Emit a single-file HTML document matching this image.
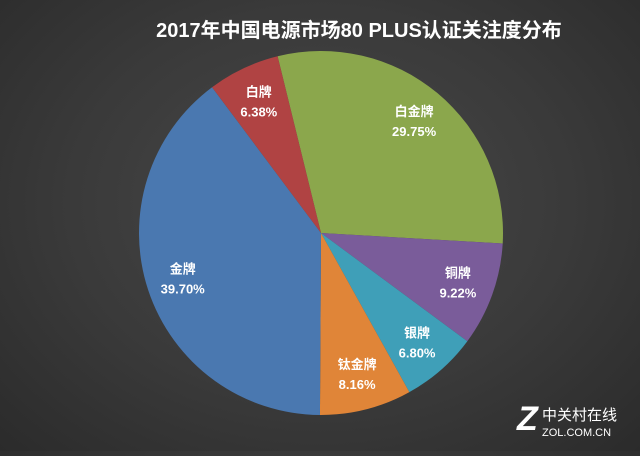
<!DOCTYPE html>
<html><head><meta charset="utf-8"><style>
html,body{margin:0;padding:0}
body{width:640px;height:451px;overflow:hidden;background:radial-gradient(ellipse at 50% 45%,#484848 0%,#3a3a3a 55%,#2b2b2b 100%);font-family:"Liberation Sans","Noto Sans CJK SC",sans-serif}
</style></head><body>
<svg id="chart" width="640" height="451" xmlns="http://www.w3.org/2000/svg">
<text x="359" y="37" text-anchor="middle" fill="#fff" font-size="20" font-weight="bold" font-family="Liberation Sans, Noto Sans CJK SC, sans-serif">2017年中国电源市场80 PLUS认证关注度分布</text>
<g id="slices"></g>
<g id="labels"></g>
<g>
<text x="517" y="430" fill="#fff" font-size="34" font-weight="bold" font-style="italic" font-family="Liberation Sans, sans-serif">Z</text>
<text x="542" y="420" fill="#fff" font-size="15" font-family="Liberation Sans, Noto Sans CJK SC, sans-serif">中关村在线</text>
<text x="542" y="436" fill="#fff" font-size="11" font-family="Liberation Sans, sans-serif">ZOL.COM.CN</text>
</g>
</svg>
<script>
const categories=["白金牌","铜牌","银牌","钛金牌","金牌","白牌"];
const values=[29.75,9.22,6.80,8.16,39.70,6.38];
const valueLabels=["29.75%","9.22%","6.80%","8.16%","39.70%","6.38%"];
const colors=["#8ba74c","#7a5c9a","#3f9fb8","#e08538","#4a78b0","#b04343"];
const cx=321,cy=233,r=182,start=-13.8;
const total=values.reduce((a,b)=>a+b,0);
const NS="http://www.w3.org/2000/svg";
const sg=document.getElementById('slices'),lg=document.getElementById('labels');
function pt(deg,rad){const a=deg*Math.PI/180;return[cx+rad*Math.sin(a),cy-rad*Math.cos(a)];}
let ang=start;
values.forEach((v,i)=>{
 const sweep=v/total*360,a0=ang,a1=ang+sweep;ang=a1;
 const p0=pt(a0,r),p1=pt(a1,r);
 const p=document.createElementNS(NS,'path');
 p.setAttribute('d',`M${cx},${cy}L${p0[0]},${p0[1]}A${r},${r} 0 ${sweep>180?1:0} 1 ${p1[0]},${p1[1]}Z`);
 p.setAttribute('fill',colors[i]);
 
 
 sg.appendChild(p);
 const m=pt((a0+a1)/2,r*0.8);
 const t=document.createElementNS(NS,'text');
 
 
 t.setAttribute('text-anchor','middle');t.setAttribute('fill','#fff');
 t.setAttribute('font-size','13');t.setAttribute('font-weight','bold');
 t.setAttribute('font-family','Liberation Sans, Noto Sans CJK SC, sans-serif');
 const s1=document.createElementNS(NS,'tspan');s1.setAttribute('x',m[0]);s1.setAttribute('y',m[1]-5);s1.textContent=categories[i];
 const s2=document.createElementNS(NS,'tspan');s2.setAttribute('x',m[0]);s2.setAttribute('y',m[1]+15);s2.textContent=valueLabels[i];
 t.appendChild(s1);t.appendChild(s2);lg.appendChild(t);
});
</script>
</body></html>
